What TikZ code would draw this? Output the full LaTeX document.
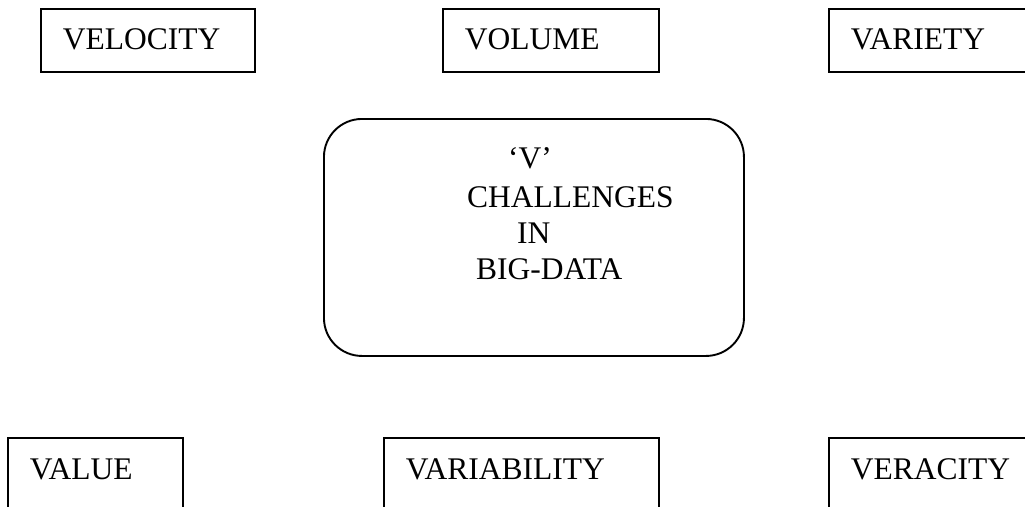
\documentclass[tikz,border=0pt]{standalone}
\usepackage{fontspec}
\setmainfont{Liberation Serif}
\begin{document}
\begin{tikzpicture}[x=1pt,y=-1pt,
  txt/.style={font=\fontsize{31.5}{37}\selectfont},
  box/.style={txt, draw, line width=1.9pt, anchor=north west, inner xsep=22pt, inner ysep=0pt, align=left},
  topbox/.style={box, text height=41pt, text depth=22pt},
  botbox/.style={box, text height=42pt, text depth=60pt},
  corebox/.style={draw, line width=1.9pt, rounded corners=38pt, anchor=north west, inner sep=0pt},
  lbl/.style={txt, inner sep=0pt, anchor=base west}]
\useasboundingbox (0,0) rectangle (1025,506);
\clip (0,0) rectangle (1025,506);
% top row
\node[topbox, text width=170pt] (velocity) at (40,8) {VELOCITY};
\node[topbox, text width=172pt] (volume) at (442,8) {VOLUME};
\node[topbox, text width=186pt] (variety) at (828,8) {VARIETY};
% centre
\node[corebox, minimum width=420pt, minimum height=237pt] (core) at (323,118) {};
\node[lbl] (core-v) at (508,168) {‘V’};
\node[lbl] (core-ch) at (467,207) {CHALLENGES};
\node[lbl] (core-in) at (517,243) {IN};
\node[lbl] (core-bd) at (476,279) {BIG-DATA};
% bottom row
\node[botbox, text width=131pt] (value) at (7,437) {VALUE};
\node[botbox, text width=231pt] (variability) at (383,437) {VARIABILITY};
\node[botbox, text width=186pt] (veracity) at (828,437) {VERACITY};
\end{tikzpicture}
\end{document}
